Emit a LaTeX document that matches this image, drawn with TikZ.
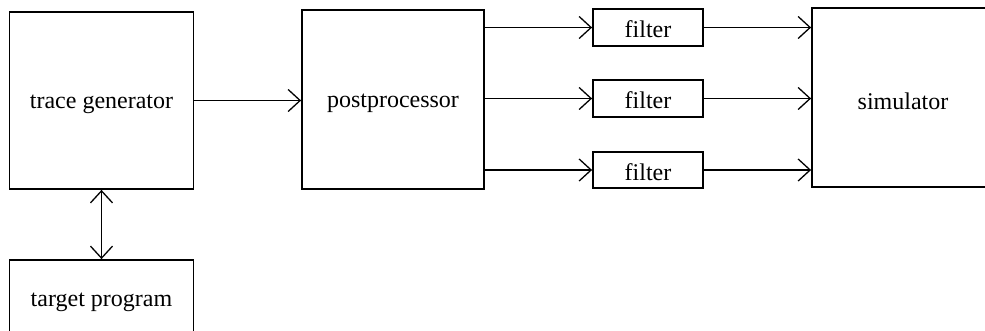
\documentclass[tikz,border=0pt]{standalone}
\usepackage{fontspec}
\setmainfont{Liberation Serif}
\usetikzlibrary{arrows.meta}
\begin{document}
\begin{tikzpicture}[x=1pt,y=-1pt,
  >={Straight Barb[length=12pt,width=22pt,line width=1.3pt]},
  box/.style={draw, line width=1.8pt, rectangle, inner sep=0pt},
  lbl/.style={font=\fontsize{24}{28}\selectfont, inner sep=0pt, yshift=-4pt},
  arr/.style={line width=1.3pt, ->},
  darr/.style={line width=1.3pt, <->}]
  \useasboundingbox (0,0) rectangle (985,330);
  \clip (0,0) rectangle (985,330);
  % main blocks
  \node[box, minimum width=184pt, minimum height=177pt,
        label={[lbl]center:trace generator}] (tg) at (101.5,100.5) {};
  \node[box, minimum width=184pt, minimum height=80pt,
        label={[lbl, yshift=2pt]center:target program}] (tp) at (101.5,300) {};
  \node[box, minimum width=182pt, minimum height=179pt,
        label={[lbl]center:postprocessor}] (pp) at (393,99.5) {};
  \node[box, minimum width=110pt, minimum height=37pt,
        label={[lbl, yshift=2pt]center:filter}] (f1) at (648,27.5) {};
  \node[box, minimum width=110pt, minimum height=37pt,
        label={[lbl, yshift=2pt]center:filter}] (f2) at (648,98.5) {};
  \node[box, minimum width=110pt, minimum height=36pt,
        label={[lbl, yshift=2pt]center:filter}] (f3) at (648,170) {};
  \node[box, minimum width=182pt, minimum height=179pt,
        label={[lbl]center:simulator}] (sim) at (903,97.5) {};
  % connectors
  \draw[darr] (tg.south) -- (tp.north);
  \draw[arr] (tg.east) -- (tg.east -| pp.west);
  \draw[arr] (pp.east |- f1.west) -- (f1.west);
  \draw[arr] (pp.east |- f2.west) -- (f2.west);
  \draw[arr] (pp.east |- f3.west) -- (f3.west);
  \draw[arr] (f1.east) -- (f1.east -| sim.west);
  \draw[arr] (f2.east) -- (f2.east -| sim.west);
  \draw[arr] (f3.east) -- (f3.east -| sim.west);
\end{tikzpicture}
\end{document}
